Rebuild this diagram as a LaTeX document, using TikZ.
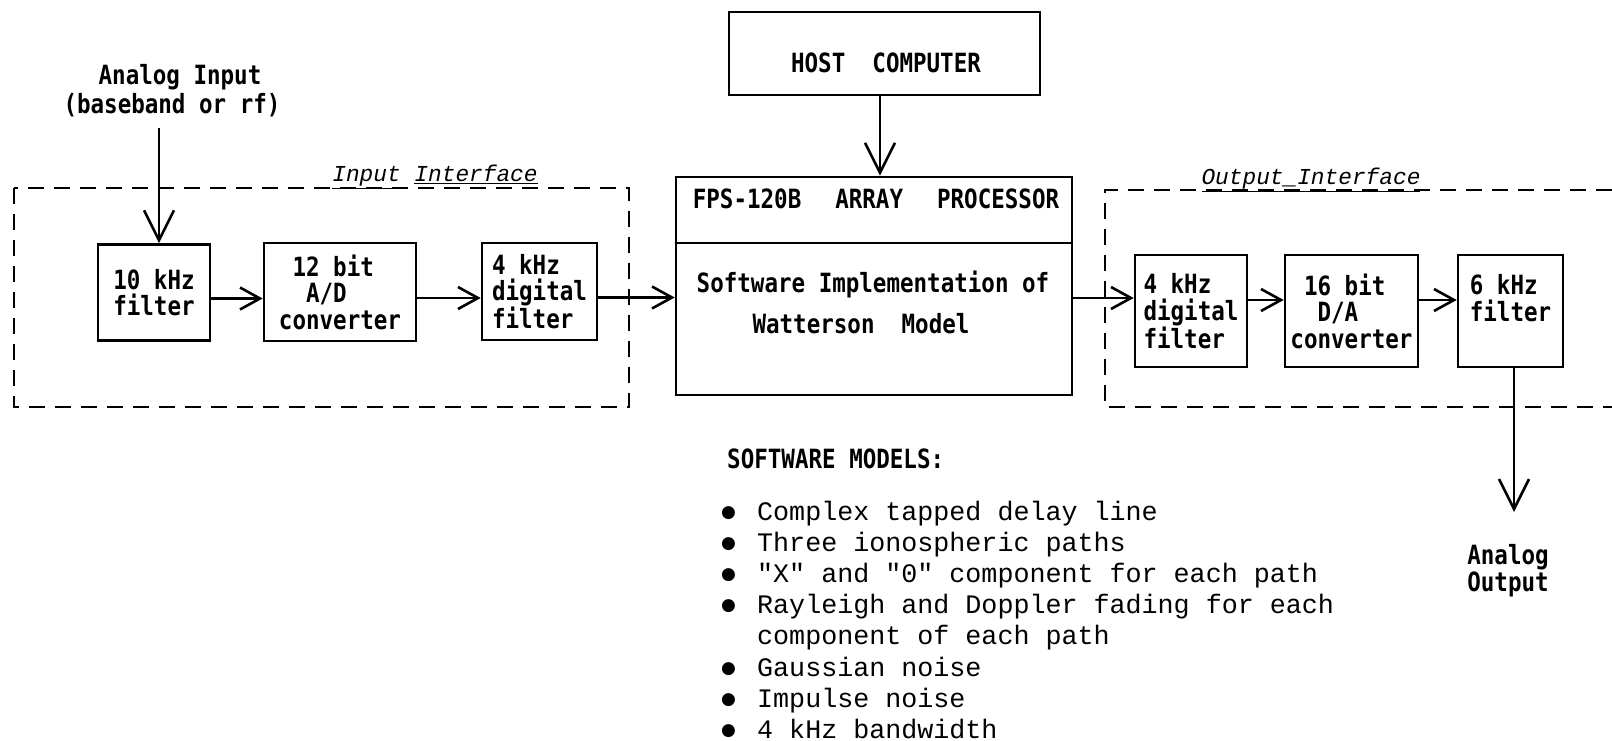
\documentclass[tikz,border=0pt]{standalone}
\usepackage{fontspec}
\usetikzlibrary{arrows.meta}
\newfontfamily\boxfont[FakeStretch=0.85]{DejaVu Sans Mono}
\newfontfamily\listfont[Ligatures=TeXOff]{Liberation Mono}
\newfontfamily\ifacefont{Liberation Mono}
\newfontfamily\symfont{DejaVu Sans}
\newcommand\bul{\makebox[36pt][l]{\raisebox{3pt}{\symfont\fontsize{17}{17}\selectfont ●}}}
\tikzset{
  blk/.style={draw, line width=2.6pt, inner sep=0pt, align=left,
    font=\boxfont\bfseries\fontsize{26.5}{26.5}\selectfont},
  txt/.style={inner sep=0pt, font=\boxfont\bfseries\fontsize{26.5}{26.5}\selectfont},
  iface/.style={inner sep=0pt, anchor=base, font=\ifacefont\itshape\fontsize{22.8}{24}\selectfont},
  arr/.style={line width=2.6pt, -{Straight Barb[length=20pt,width=22pt,line width=2.6pt]}},
  bigarr/.style={line width=2.6pt, -{Straight Barb[length=30pt,width=30pt,line width=2.6pt]}},
  dashbox/.style={line width=2.6pt, dash pattern=on 16pt off 10pt},
}
\begin{document}
\begin{tikzpicture}[x=1pt,y=-1pt]
\useasboundingbox (0,0) rectangle (1612,741);

% input interface
\draw[dashbox] (14,188) rectangle (629,407);
\node[iface] (inlbl) at (435,182) {\underline{Input} \underline{Interface}};

\node[txt, anchor=base] (ain1) at (180,85) {Analog Input};
\node[txt, anchor=base] (ain2) at (172,114) {(baseband or rf)};
\coordinate (ain) at (159,128);

\node[blk, minimum width=112pt, minimum height=96pt] (f10) at (154,292.5) {10 kHz\\filter};
\node[blk, minimum width=152pt, minimum height=98pt] (ad) at (340,292) {\hphantom{c}12 bit\\\hphantom{cc}A/D\\converter};
\node[blk, minimum width=115pt, minimum height=97pt] (dfi) at (539.5,291.5) {4 kHz\\digital\\filter};

% host and array processor
\node[blk, minimum width=311pt, minimum height=83pt] (host) at (884.5,53.5) {};
\node[txt, anchor=base] (hostt) at (886,73) {HOST\ \ COMPUTER};
\node[blk, minimum width=396pt, minimum height=218pt] (fps) at (874,286) {};
\coordinate (div) at (0,243);
\draw[line width=2.6pt] (fps.west |- div) -- (fps.east |- div);
\node[txt, anchor=base] (fpst) at (876,208) {FPS-120B\hspace{34pt}ARRAY\hspace{34pt}PROCESSOR};
\node[txt, anchor=base] (sw1) at (873,292) {Software Implementation of};
\node[txt, anchor=base] (sw2) at (861,333) {Watterson\ \ Model};

% output interface
\draw[dashbox] (1612,190) -- (1105,190) -- (1105,407) -- (1612,407);
\node[iface] (outlbl) at (1311,185) {\underline{Output\_Interface}};

\node[blk, minimum width=112pt, minimum height=112pt] (dfo) at (1191,311) {4 kHz\\digital\\filter};
\node[blk, minimum width=133pt, minimum height=112pt] (da) at (1351.5,311) {\hphantom{c}16 bit\\\hphantom{cc}D/A\\converter};
\node[blk, minimum width=105pt, minimum height=112pt] (f6) at (1510.5,311) {6 kHz\\filter\\\mbox{}};

\coordinate (aout) at (1514,512);
\node[txt, anchor=base] (aout1) at (1508,564) {Analog};
\node[txt, anchor=base] (aout2) at (1508,591) {Output};

% connectors
\draw[bigarr] (ain) -- (ain |- f10.north);
\draw[arr] ([yshift=-6pt]f10.east) -- ([yshift=-6pt]f10.east -| ad.west);
\draw[arr] ([yshift=-6pt]ad.east) -- ([yshift=-6pt]ad.east -| dfi.west);
\draw[arr] ([yshift=-6pt]dfi.east) -- ([yshift=-6pt]dfi.east -| fps.west);
\draw[bigarr] (host.south -| 880,0) -- (fps.north -| 880,0);
\draw[arr] ([yshift=-12pt]fps.east) -- ([yshift=-12pt]fps.east -| dfo.west);
\draw[arr] ([yshift=11pt]dfo.east) -- ([yshift=11pt]dfo.east -| da.west);
\draw[arr] ([yshift=11pt]da.east) -- ([yshift=11pt]da.east -| f6.west);
\draw[bigarr] (f6.south -| aout) -- (aout);

% software models
\node[txt, anchor=base west] (swm) at (727,468) {SOFTWARE MODELS:};
\node[inner sep=0pt, anchor=base west, font=\listfont\fontsize{26.7}{31.2}\selectfont] (list) at (721,520) {%
\begin{tabular}[t]{@{}l@{}l@{}}
\bul & Complex tapped delay line\\
\bul & Three ionospheric paths\\
\bul & "X" and "0" component for each path\\
\bul & Rayleigh and Doppler fading for each\\
 & component of each path\\
\bul & Gaussian noise\\
\bul & Impulse noise\\
\bul & 4 kHz bandwidth
\end{tabular}};
\end{tikzpicture}
\end{document}
